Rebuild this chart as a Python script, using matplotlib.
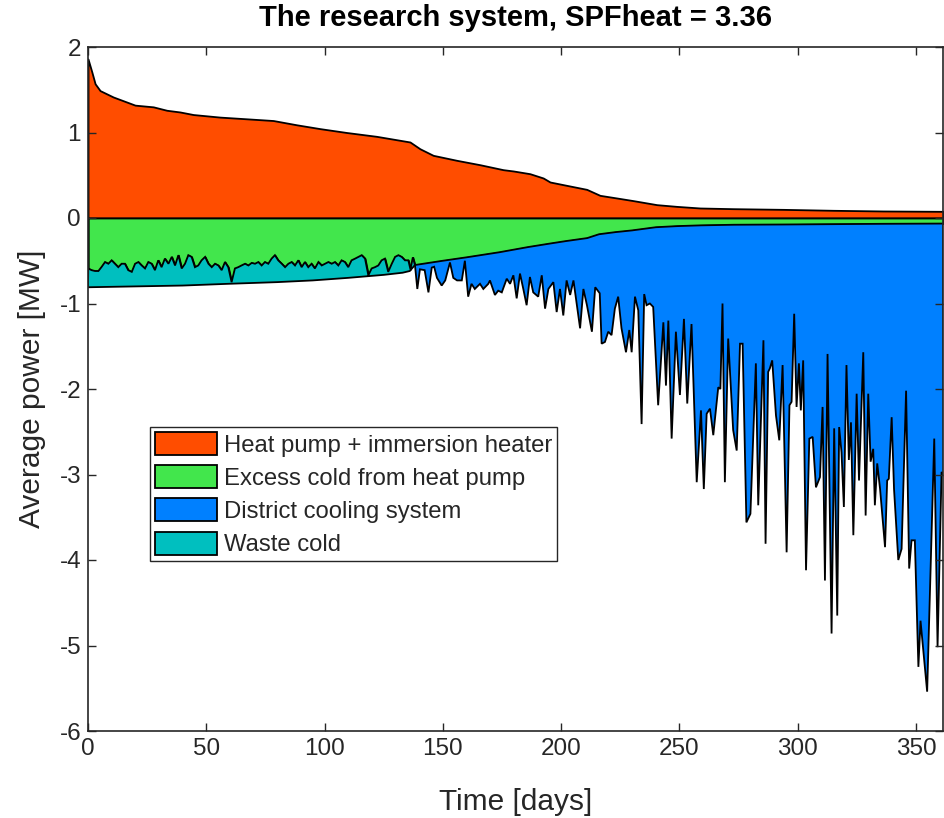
import numpy as np
import matplotlib.pyplot as plt

plt.rcParams['font.family'] = ['Liberation Sans', 'DejaVu Sans']
plt.rcParams['axes.unicode_minus'] = False

# heat pump + immersion heater (upper edge of orange area)
heat_days = [0, 1.6, 3.0, 5.1, 10.7, 19.9, 27.6, 33.3, 38.9, 44.5, 55.8, 67.1, 78.3,
             88.2, 98.1, 109.3, 122.0, 136.1, 140.3, 145.9, 155.8, 165.7, 175.5, 179.8,
             186.8, 192.4, 195.3, 202.3, 210.8, 216.4, 223.5, 230.5, 240.4, 248.8, 258.7,
             272.7, 293.9, 315.0, 336.1, 361.5]
heat_mw = [1.86, 1.71, 1.57, 1.49, 1.415, 1.32, 1.30, 1.26, 1.24, 1.21, 1.18, 1.16, 1.14,
           1.09, 1.045, 1.0, 0.955, 0.889, 0.81, 0.733, 0.675, 0.623, 0.565, 0.55,
           0.518, 0.468, 0.421, 0.382, 0.335, 0.265, 0.234, 0.203, 0.156, 0.136, 0.117,
           0.109, 0.101, 0.09, 0.082, 0.078]

# excess cold from heat pump (lower edge of green area)
excess_days = [0.1, 1.5, 3.0, 4.4, 5.8, 7.2, 8.6, 10.0, 11.4, 12.8, 14.2, 15.6, 17.0, 18.5,
               19.9, 21.3, 22.7, 24.1, 25.5, 26.9, 28.3, 29.7, 31.1, 32.5, 34.0, 35.4, 36.8,
               38.2, 39.6, 41.0, 42.4, 43.8, 45.2, 46.6, 48.0, 49.5, 50.9, 52.3, 53.7, 55.1,
               56.5, 57.9, 59.3, 60.7, 62.1, 63.5, 64.9, 66.4, 67.8, 69.2, 70.6, 72.0, 73.4,
               74.8, 76.2, 77.6, 79.0, 80.4, 81.9, 83.3, 84.7, 86.1, 87.5, 88.9, 90.3, 91.7,
               93.1, 94.5, 95.9, 97.4, 98.8, 100.2, 101.6, 103.0, 104.4, 105.8, 107.2, 108.6,
               110.0, 111.4, 112.9, 114.3, 115.7, 117.1, 118.5, 119.9, 121.3, 122.7, 124.1,
               125.5, 126.9, 128.4, 129.8, 131.2, 132.6, 134.0, 135.4, 136.3, 137.3, 138.2,
               150, 160, 174, 186, 195, 202, 211, 216, 223, 230, 240, 249, 259, 273, 294,
               315, 336, 361.5]
excess_mw = [-0.59, -0.61, -0.62, -0.62, -0.57, -0.515, -0.535, -0.495, -0.535, -0.575,
             -0.535, -0.535, -0.61, -0.63, -0.535, -0.515, -0.555, -0.59, -0.515, -0.535,
             -0.61, -0.495, -0.575, -0.475, -0.535, -0.455, -0.555, -0.435, -0.59, -0.535,
             -0.435, -0.455, -0.575, -0.555, -0.495, -0.455, -0.535, -0.575, -0.535, -0.555,
             -0.61, -0.515, -0.575, -0.75, -0.59, -0.575, -0.555, -0.535, -0.555, -0.525,
             -0.535, -0.515, -0.555, -0.515, -0.535, -0.475, -0.435, -0.495, -0.535, -0.575,
             -0.535, -0.515, -0.555, -0.495, -0.575, -0.515, -0.575, -0.535, -0.59, -0.515,
             -0.555, -0.535, -0.515, -0.535, -0.515, -0.555, -0.495, -0.515, -0.575, -0.495,
             -0.475, -0.455, -0.435, -0.475, -0.67, -0.59, -0.575, -0.555, -0.495, -0.475,
             -0.63, -0.535, -0.455, -0.435, -0.455, -0.495, -0.495, -0.60, -0.46, -0.55,
             -0.50, -0.46, -0.40, -0.34, -0.30, -0.27, -0.235, -0.19, -0.165, -0.145, -0.108,
             -0.095, -0.086, -0.079, -0.076, -0.072, -0.068, -0.065]

# waste cold (lower edge of cyan area)
waste_days = [0, 20, 40, 59, 80, 95, 110, 125, 133, 136, 138.2]
waste_mw = [-0.81, -0.80, -0.79, -0.77, -0.75, -0.73, -0.70, -0.665, -0.64, -0.62, -0.55]

# district cooling system (lower edge of blue area)
dc_days = [138.2, 139.2, 140.3, 142.3, 143.9, 145.3, 146.3, 147.5, 149.5, 151.0, 153.0,
           154.4, 156.0, 158.0, 159.3, 160.7, 162.1, 163.5, 165.7, 167.1, 169.2, 169.9,
           172.0, 173.4, 174.9, 177.0, 178.4, 179.8, 181.2, 182.6, 184.0, 185.4, 186.8,
           188.2, 190.3, 191.8, 193.2, 194.6, 196.7, 198.1, 199.5, 200.9, 202.3, 203.8,
           205.2, 208.0, 209.4, 210.9, 213.0, 214.4, 216.3, 217.1, 218.5, 219.9, 221.3,
           222.7, 224.1, 225.5, 227.4, 228.8, 229.8, 231.2, 232.6, 234.0, 235.1, 236.1,
           237.5, 238.9, 241.0, 243.2, 244.3, 245.3, 246.7, 248.5, 250.2, 251.9, 253.3,
           255.1, 257.3, 259.1, 260.3, 261.5, 262.9, 264.3, 266.4, 267.3, 268.2, 269.2,
           270.6, 272.7, 274.2, 275.6, 276.7, 278.3, 280.0, 282.3, 283.3, 285.5, 286.4,
           287.5, 288.2, 289.2, 290.8, 292.2, 293.6, 295.3, 296.5, 297.4, 298.5, 299.5,
           300.5, 301.3, 302.3, 303.5, 304.9, 306.3, 307.7, 309.4, 310.5, 311.5, 312.6,
           314.3, 315.4, 316.7, 317.5, 318.5, 319.5, 320.6, 321.6, 322.5, 323.5, 324.9,
           325.9, 327.7, 328.7, 329.8, 330.8, 331.9, 332.6, 333.6, 334.8, 336.9, 337.8,
           338.5, 339.7, 340.7, 342.5, 343.9, 345.8, 347.1, 348.1, 349.5, 351.0, 351.9,
           354.7, 357.7, 359.1, 360.8, 361.8]
dc_mw = [-0.55, -0.83, -0.60, -0.61, -0.87, -0.58, -0.57, -0.70, -0.79, -0.73, -0.52,
         -0.70, -0.73, -0.73, -0.50, -0.92, -0.77, -0.83, -0.77, -0.83, -0.77, -0.73,
         -0.90, -0.85, -0.87, -0.71, -0.77, -0.67, -0.94, -0.65, -0.83, -1.02, -0.69,
         -0.87, -0.92, -0.67, -1.06, -0.83, -0.75, -1.10, -0.83, -1.14, -0.73, -0.90,
         -0.73, -1.29, -0.83, -1.02, -1.33, -0.81, -0.88, -1.47, -1.45, -1.33, -1.37,
         -1.06, -0.92, -1.29, -1.57, -1.31, -1.57, -0.92, -1.08, -2.41, -0.89, -1.02,
         -1.00, -1.04, -2.19, -1.22, -1.96, -1.20, -2.58, -1.33, -2.07, -1.18, -2.17,
         -1.24, -3.09, -2.25, -3.17, -2.29, -2.23, -2.54, -1.98, -2.00, -1.00, -3.09,
         -1.41, -2.48, -2.72, -1.47, -1.47, -3.56, -3.46, -1.70, -3.36, -1.43, -3.81,
         -1.80, -1.76, -1.665, -2.31, -2.60, -1.72, -3.91, -2.19, -2.15, -1.12, -2.21,
         -1.70, -2.25, -1.665, -4.12, -2.58, -2.56, -3.15, -3.03, -2.21, -4.24, -1.59,
         -4.86, -2.46, -4.65, -2.445, -2.74, -3.38, -1.72, -2.83, -2.39, -3.71, -2.055,
         -3.07, -1.57, -3.48, -2.055, -2.85, -2.70, -3.36, -2.87, -3.17, -3.85, -3.07,
         -3.05, -2.33, -3.17, -4.00, -3.87, -2.02, -4.10, -3.77, -3.77, -5.25, -4.71,
         -5.54, -2.58, -5.02, -2.97, -3.01]

labels = ['Heat pump + immersion heater', 'Excess cold from heat pump',
          'District cooling system', 'Waste cold']
colors = ['#FF4D00', '#42E64C', '#0080FF', '#00BFBF']

fig = plt.figure(figsize=(9.44, 8.18), dpi=100)
ax = fig.add_axes([88 / 944, 87 / 818, 855 / 944, 684 / 818])

gd = np.array(excess_days)
gb = np.array(excess_mw)
early = gd <= 138.2
late = gd >= 138.2

edge = dict(edgecolor='k', linewidth=1.3)
ax.fill_between(heat_days, 0, heat_mw, facecolor=colors[0], label=labels[0], **edge)
ax.fill_between(gd, gb, 0, facecolor=colors[1], label=labels[1], **edge)
ax.fill(np.r_[gd[late], dc_days[::-1]], np.r_[gb[late], dc_mw[::-1]],
        facecolor=colors[2], label=labels[2], **edge)
ax.fill(np.r_[gd[early], waste_days[::-1]], np.r_[gb[early], waste_mw[::-1]],
        facecolor=colors[3], label=labels[3], **edge)

ax.set_xlim(0, 361.4)
ax.set_ylim(-6, 2)
ax.set_xticks(np.arange(0, 351, 50))
ax.set_yticks(np.arange(-6, 3, 1))

axcol = '#262626'
for s in ax.spines.values():
    s.set_color(axcol)
    s.set_linewidth(1.2)
ax.tick_params(direction='in', length=6, width=1.0, color=axcol, labelcolor=axcol,
               labelsize=17.5, top=True, right=True, pad=5)

ax.set_title('The research system, SPFheat = 3.36', fontsize=21, fontweight='bold',
             color='black', pad=15)
ax.set_xlabel('Time [days]', fontsize=21.5, color=axcol, labelpad=20)
ax.set_ylabel('Average power [MW]', fontsize=21.5, color=axcol, labelpad=10)

leg = ax.legend(loc='upper left', bbox_to_anchor=(0.0724, 0.444), borderaxespad=0,
                fontsize=17.2, fancybox=False, framealpha=1, edgecolor=axcol,
                handlelength=2.6, handleheight=1.1, handletextpad=0.3,
                labelspacing=0.36, borderpad=0.2)
leg.get_frame().set_linewidth(1.0)
for t in leg.get_texts():
    t.set_color(axcol)

fig.savefig('out.png', dpi=100)
